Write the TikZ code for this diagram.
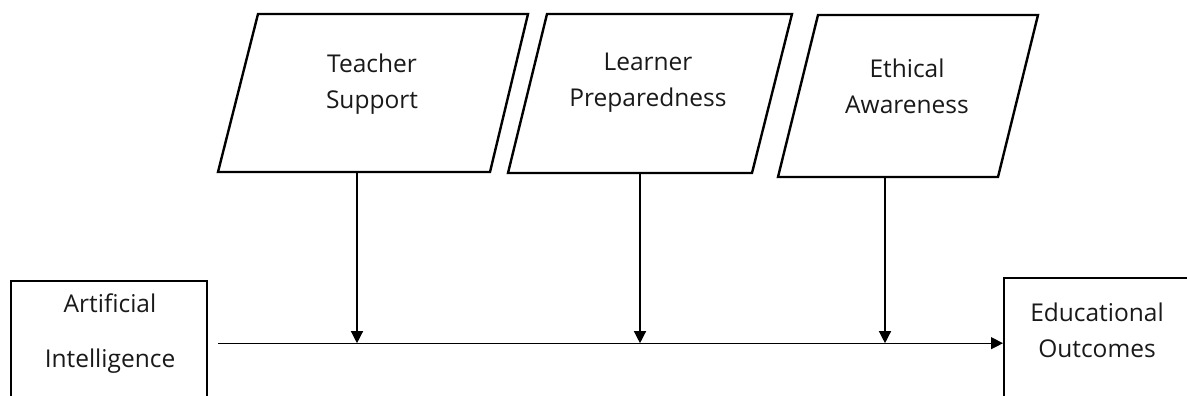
\documentclass[tikz,border=0pt]{standalone}
\usepackage{fontspec}
\setmainfont{Open Sans}
\usetikzlibrary{arrows.meta}

\begin{document}
\begin{tikzpicture}[x=1pt, y=-1pt,
    frame/.style={draw, line width=2.4pt},
    txt/.style={align=center, text=black!90, font=\fontsize{24.5}{36}\selectfont},
    arr/.style={line width=1.3pt, -{Triangle[width=12pt,length=12pt]}}]
    \useasboundingbox (0,0) rectangle (1187,396);
    \clip (0,0) rectangle (1187,396);

    % end boxes
    \node (ai) [frame, anchor=north west, minimum width=196, minimum height=124] at (10,280) {};
    \node (ai-t) at (110,334) [txt, font=\fontsize{24.5}{55}\selectfont] {Artificial\\Intelligence};
    \node (eo) [frame, anchor=north west, minimum width=250, minimum height=130] at (1003,277) {};
    \node (eo-t) at (1097,330) [txt] {Educational\\Outcomes};

    \draw[arr] ([xshift=10pt]ai.east) -- (eo.west);

    % moderators
    \draw[frame] (218,172) -- (258,14) -- (528,14) -- (490,172) -- cycle;
    \node (ts) at (372,84) [txt] {Teacher\\Support};
    \coordinate (ts-b) at (357,172);
    \draw[arr] (ts-b) -- (ts-b |- ai.east);

    \draw[frame] (508,173) -- (547,14) -- (792,14) -- (752,173) -- cycle;
    \node (lp) at (648,83) [txt] {Learner\\Preparedness};
    \coordinate (lp-b) at (640,173);
    \draw[arr] (lp-b) -- (lp-b |- ai.east);

    \draw[frame] (778,177) -- (818,15) -- (1038,15) -- (998,177) -- cycle;
    \node (ea) at (907,86) [txt] {Ethical\\Awareness};
    \coordinate (ea-b) at (885,177);
    \draw[arr] (ea-b) -- (ea-b |- ai.east);
\end{tikzpicture}
\end{document}
